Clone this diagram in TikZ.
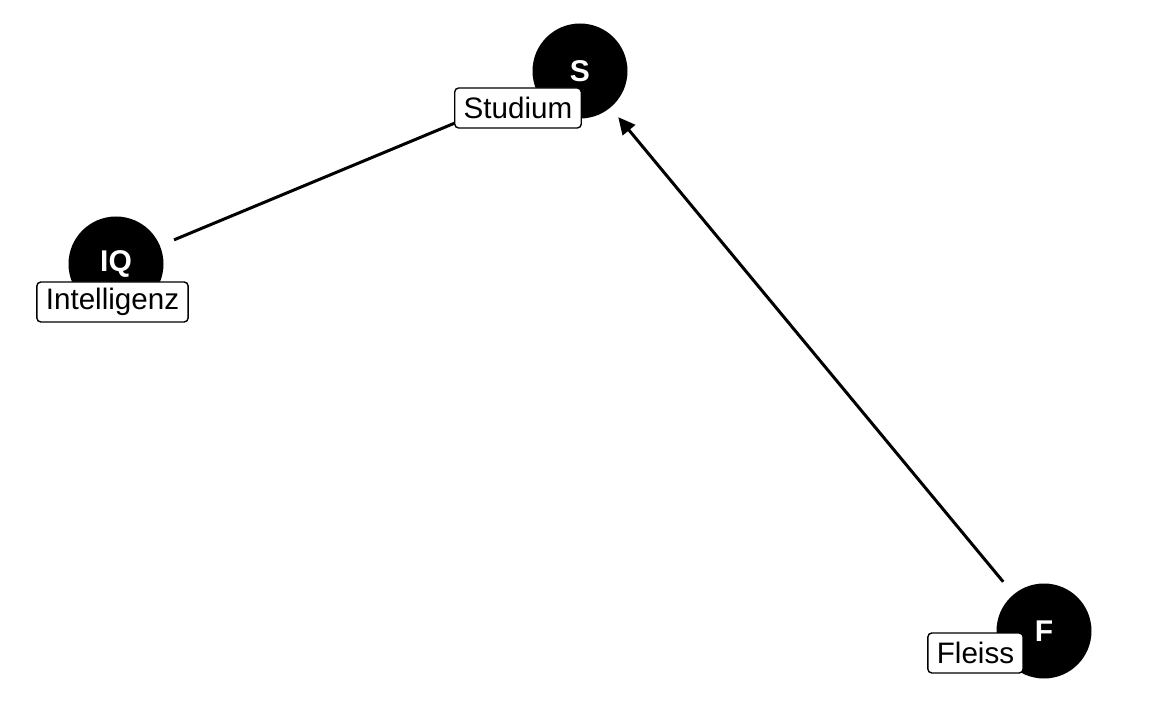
\documentclass[tikz,border=0pt]{standalone}
\usepackage{fontspec}
\setsansfont{Liberation Sans}
\usepackage{tikz}
\usetikzlibrary{arrows.meta,positioning}

\begin{document}
\begin{tikzpicture}[
 x=0.5pt,y=-0.5pt,
 >={Triangle[length=8.5pt,width=8pt]},
 font=\sffamily,
 var/.style={circle,fill=black,minimum size=47.5pt,inner sep=0pt,text=white,font=\sffamily\bfseries\fontsize{15}{17}\selectfont},
 tag/.style={draw=black,fill=white,rounded corners=2pt,line width=0.7pt,inner xsep=4.5pt,inner ysep=0pt,minimum height=20pt,font=\sffamily\fontsize{14.8}{17}\selectfont},
 link/.style={line width=1.5pt}
]
\useasboundingbox (0,0) rectangle (1152,711);
\node[var] (S) at (580,71) {S};
\node[var] (IQ) at (116,264) {IQ};
\node[var] (F) at (1044,631) {F};
\draw[link,shorten <=7.5pt,shorten >=7pt] (IQ) -- (S);
\draw[link,->,shorten <=8pt,shorten >=6pt] (F) -- (S);
\node[tag] (studium) at (518,108) {Studium};
\node[tag] (intelligenz) at (112.5,302) {Intelligenz};
\node[tag] (fleiss) at (975.5,653) {Fleiss};
\end{tikzpicture}
\end{document}
